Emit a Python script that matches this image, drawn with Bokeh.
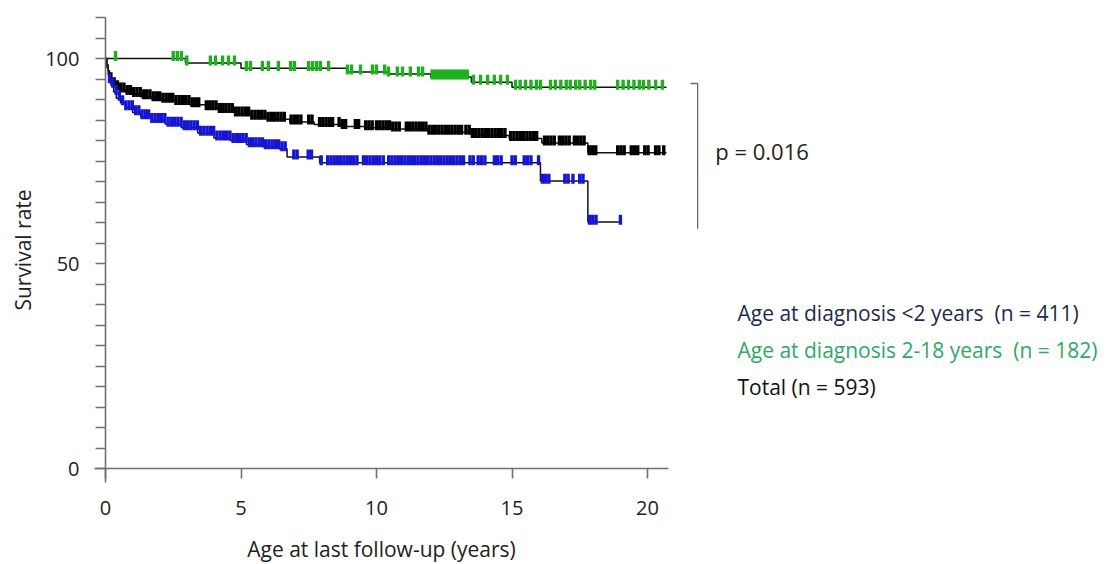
import numpy as np
from bokeh.plotting import figure
from bokeh.models import Range1d, FixedTicker
from bokeh.core.properties import value
from bokeh.embed import file_html
from bokeh.resources import INLINE

# Kaplan-Meier steps: time of each drop (years) and survival (%) after it
total_t = [0, 0.05, 0.1, 0.15, 0.2, 0.3, 0.4, 0.55, 0.75, 1.0, 1.3, 1.7, 2.1, 2.6,
           3.1, 3.7, 4.2, 4.8, 5.4, 6.0, 6.8, 7.7, 8.7, 9.6, 10.5, 11.9, 13.5,
           14.9, 16.1, 17.8]
total_s = [100, 98.5, 97.0, 95.8, 94.8, 93.6, 92.9, 92.3, 91.7, 91.2, 90.7, 90.2,
           89.8, 89.3, 88.7, 88.0, 87.3, 86.5, 85.7, 85.2, 84.5, 83.9, 83.4, 83.1,
           82.8, 82.0, 81.2, 80.5, 79.4, 77.0]
total_end = 20.7

under2_t = [0, 0.05, 0.1, 0.15, 0.2, 0.3, 0.4, 0.55, 0.75, 1.0, 1.3, 1.7, 2.2, 2.8,
            3.4, 4.0, 4.6, 5.2, 5.8, 6.4, 6.7, 7.9, 16.05, 17.8]
under2_s = [100, 97.8, 96.0, 94.6, 93.5, 91.8, 90.3, 89.2, 88.0, 86.8, 85.8, 84.9,
            84.0, 83.1, 81.8, 80.6, 80.0, 79.0, 78.5, 78.0, 76.0, 74.6, 70.1, 60.1]
under2_end = 19.05

over2_t = [0, 2.95, 5.0, 8.9, 10.4, 12.0, 13.5, 15.0]
over2_s = [100, 98.9, 97.6, 96.7, 96.2, 95.5, 94.2, 93.0]
over2_end = 20.7

# Censored observations (years)
total_cens = [0.2, 0.32, 0.44, 0.56, 0.68, 0.8, 0.92, 1.04, 1.16, 1.28, 1.4, 1.52,
              1.64, 1.76, 1.88, 2.0, 2.12, 2.24, 2.36, 2.48, 2.6, 2.72, 2.84, 2.96,
              3.08, 3.2, 3.32, 3.44, 3.72, 3.84, 3.96, 4.08, 4.2, 4.32, 4.44, 4.56,
              4.68, 4.8, 4.92, 5.04, 5.16, 5.28, 5.4, 5.52, 5.64, 5.76, 5.88, 6.0,
              6.12, 6.24, 6.36, 6.48, 6.6, 6.85, 6.97, 7.09, 7.21, 7.5, 7.62, 7.9,
              8.02, 8.14, 8.26, 8.38, 8.62, 8.74, 8.86, 9.22, 9.34, 9.6, 9.72, 9.84,
              10.0, 10.12, 10.24, 10.36, 10.48, 10.6, 10.72, 10.84, 11.1, 11.22,
              11.34, 11.46, 11.58, 11.7, 11.82, 11.94, 12.06, 12.18, 12.3, 12.42,
              12.54, 12.66, 12.78, 12.9, 13.02, 13.14, 13.3, 13.42, 13.54, 13.66,
              13.78, 13.9, 14.02, 14.14, 14.26, 14.38, 14.5, 14.62, 14.74, 14.95,
              15.07, 15.19, 15.31, 15.43, 15.55, 15.67, 15.79, 15.91, 16.2, 16.32,
              16.44, 16.56, 16.75, 16.87, 16.99, 17.11, 17.3, 17.42, 17.54, 17.66,
              17.85, 17.97, 18.09, 18.9, 19.02, 19.14, 19.4, 19.52, 19.64, 19.9,
              20.02, 20.3, 20.42, 20.6]
under2_cens = [0.15, 0.27, 0.39, 0.51, 0.63, 0.75, 0.87, 0.99, 1.11, 1.23, 1.35,
               1.47, 1.59, 1.71, 1.83, 1.95, 2.07, 2.19, 2.31, 2.43, 2.55, 2.67,
               2.79, 2.91, 3.03, 3.15, 3.27, 3.39, 3.51, 3.63, 3.75, 3.87, 3.99,
               4.11, 4.23, 4.35, 4.47, 4.59, 4.71, 4.83, 4.95, 5.07, 5.19, 5.31,
               5.43, 5.55, 5.67, 5.79, 5.91, 6.03, 6.15, 6.27, 6.39, 6.51, 6.63,
               6.95, 7.07, 7.48, 7.6, 7.96, 8.2, 8.32, 8.44, 8.56, 8.68, 8.8, 8.92,
               9.04, 9.16, 9.28, 9.52, 9.64, 9.76, 9.88, 10.0, 10.12, 10.25, 10.45,
               10.57, 10.69, 10.81, 10.93, 11.05, 11.17, 11.29, 11.41, 11.53, 11.65,
               11.77, 11.89, 12.01, 12.13, 12.25, 12.37, 12.49, 12.61, 12.73, 12.85,
               12.97, 13.09, 13.21, 13.45, 13.57, 13.75, 13.87, 14.0, 14.35, 14.47,
               14.6, 15.0, 15.12, 15.45, 15.57, 15.7, 15.98, 16.12, 16.24, 16.36,
               16.95, 17.07, 17.25, 17.5, 17.62, 17.86, 17.98, 18.1, 19.0]
over2_cens = [0.37, 2.5, 2.65, 2.8, 3.0, 3.87, 4.06, 4.32, 4.54, 4.76, 5.2, 5.35,
              5.79, 6.01, 6.38, 6.83, 6.97, 7.49, 7.64, 7.79, 7.93, 8.23, 8.93, 9.08,
              9.41, 9.85, 10.0, 10.3, 10.44, 10.77, 10.96, 11.25, 11.55, 11.7, 12.05,
              12.15, 12.25, 12.35, 12.45, 12.55, 12.65, 12.75, 12.85, 12.95, 13.05,
              13.15, 13.25, 13.35, 13.58, 13.84, 14.1, 14.35, 14.58, 14.83, 15.13,
              15.3, 15.5, 15.7, 15.9, 16.05, 16.42, 16.6, 16.8, 17.0, 17.15, 17.35,
              17.5, 17.7, 17.9, 18.05, 18.9, 19.1, 19.3, 19.5, 19.7, 19.85, 20.05,
              20.3, 20.55]

x_ticks = [0, 5, 10, 15, 20]
y_labelled_ticks = [0, 50, 100]
y_minor_ticks = [5, 10, 15, 20, 25, 30, 35, 40, 45, 55, 60, 65, 70, 75, 80, 85,
                 90, 95, 105, 110]

legend_labels = ["Age at diagnosis <2 years \u00a0(n = 411)",
                 "Age at diagnosis 2-18 years \u00a0(n = 182)",
                 "Total (n = 593)"]
legend_colors = ["#1e2a4e", "#2fa866", "#111111"]
p_text = "p = 0.016"

FONT = "Open Sans"

# pixel scale: 27.1 px per year, 4.1 px per percentage point
p = figure(width=1106, height=564, output_backend="svg", toolbar_location=None,
           x_range=Range1d(-105 / 27.1, 1001 / 27.1),
           y_range=Range1d(-96 / 4.1, 468 / 4.1),
           min_border=0, outline_line_color=None)
p.grid.visible = False
p.background_fill_color = "white"
p.border_fill_color = "white"

xa = p.xaxis[0]
xa.fixed_location = 0
xa.bounds = (-0.4, 20.77)
xa.ticker = FixedTicker(ticks=x_ticks)
ya = p.yaxis[0]
ya.fixed_location = 0
ya.bounds = (-3.4, 110)
ya.ticker = FixedTicker(ticks=y_labelled_ticks, minor_ticks=y_minor_ticks)

for ax in (xa, ya):
    ax.axis_line_color = "#707070"
    ax.axis_line_width = 1.6
    ax.major_tick_line_color = "#707070"
    ax.minor_tick_line_color = "#707070"
    ax.major_tick_line_width = 1.6
    ax.minor_tick_line_width = 1.6
    ax.major_tick_in = 0
    ax.minor_tick_in = 0
    ax.major_tick_out = 10
    ax.minor_tick_out = 10
    ax.major_label_text_font = FONT
    ax.major_label_text_font_size = "20px"
    ax.major_label_text_color = "#222222"
    ax.axis_label_text_font = FONT
    ax.axis_label_text_font_size = "21px"
    ax.axis_label_text_font_style = "normal"
    ax.axis_label_text_color = "#222222"

xa.minor_tick_out = 0
xa.major_label_standoff = 22
xa.axis_label = "Age at last follow-up (years)"
xa.axis_label_standoff = 17
ya.major_label_standoff = 16
ya.axis_label = "Survival rate"
ya.axis_label_standoff = 5


def draw_curve(t, s, end, cens, mark_color):
    xs = list(t) + [end]
    ys = list(s) + [s[-1]]
    p.step(xs, ys, mode="after", line_color="#111111", line_width=1.5)
    tt = np.asarray(t)
    ss = np.asarray(s)
    idx = np.searchsorted(tt, np.asarray(cens), side="right") - 1
    cy = ss[idx] + 0.6
    p.rect(x=cens, y=cy, width=3.4, height=10, width_units="screen",
           height_units="screen", fill_color=mark_color, line_color=None)


draw_curve(over2_t, over2_s, over2_end, over2_cens, "#1fb01f")
draw_curve(total_t, total_s, total_end, total_cens, "#000000")
draw_curve(under2_t, under2_s, under2_end, under2_cens, "#1515d2")

# bracket for the log-rank comparison
p.line([21.59, 21.85, 21.85], [93.9, 93.9, 58.5], line_color="#6a6a6a", line_width=1.3)
p.text(x=[22.5], y=[77.5], text=[p_text], text_font=value(FONT),
       text_font_size="22px", text_baseline="middle", text_align="left",
       text_color="#222222")

p.text(x=[23.32, 23.32, 23.32], y=[38.0, 28.8, 20.0], text=legend_labels,
       text_color=legend_colors, text_font=value(FONT), text_font_size="21px",
       text_baseline="middle", text_align="left")

open("out.html", "w").write(file_html(p, INLINE))
